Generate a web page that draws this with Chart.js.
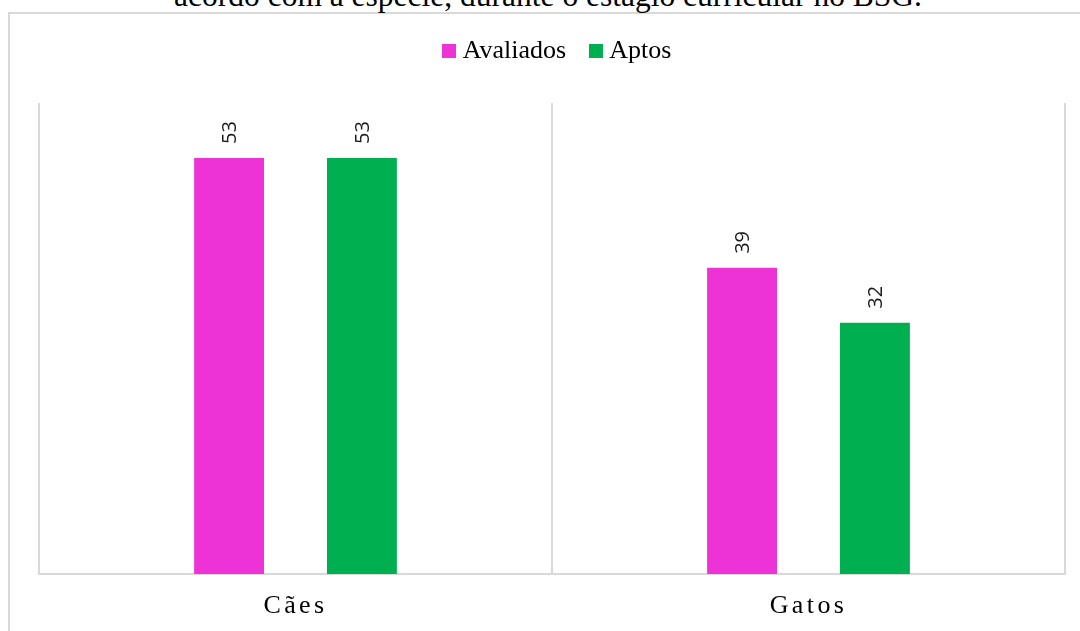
<!DOCTYPE html>
<html>
<head>
<meta charset="utf-8">
<script src="https://cdn.jsdelivr.net/npm/chart.js@4.4.1/dist/chart.umd.min.js"></script>
<style>
  html, body { margin: 0; padding: 0; background: #fff; width: 1080px; height: 631px; overflow: hidden; }
  #frame { position: absolute; left: 8px; top: 12px; width: 1200px; height: 800px;
           border-left: 2px solid #d9d9d9; border-top: 2px solid #d9d9d9; }
  #caption { position: absolute; left: 548px; top: -20px; transform: translateX(-50%);
             white-space: nowrap; font-family: 'Liberation Serif', 'Times New Roman', serif;
             font-size: 31.5px; line-height: 1; color: #000; }
  #wrap { position: absolute; left: 0; top: 0; width: 1080px; height: 631px; }
</style>
</head>
<body>
<div id="frame"></div>
<div id="caption">acordo com a espécie, durante o estágio curricular no BSG.</div>
<div id="wrap"><canvas id="c"></canvas></div>
<script>
// Animals per species
const categories = ['Cães', 'Gatos'];
const seriesNames = ['Avaliados', 'Aptos'];
const avaliados = [53, 39];
const aptos = [53, 32];
const seriesColors = ['#ED33D6', '#00B050'];
const axisMax = 60;

// Category axis that draws its labels with extra letter spacing
const BaseCategory = Chart.registry.getScale('category');
class SpacedCategoryScale extends BaseCategory {
  drawLabels(chartArea) {
    const ctx = this.ctx;
    ctx.save();
    ctx.letterSpacing = '3.4px';
    super.drawLabels(chartArea);
    ctx.restore();
  }
}
SpacedCategoryScale.id = 'spacedCategory';
SpacedCategoryScale.defaults = BaseCategory.defaults;
Chart.register(SpacedCategoryScale);

// Small square swatches for the legend
function swatch(color) {
  const cv = document.createElement('canvas');
  cv.width = 14; cv.height = 14;
  const g = cv.getContext('2d');
  g.fillStyle = color;
  g.fillRect(0, 0, 14, 14);
  return cv;
}
const swatches = seriesColors.map(swatch);

// Extra room under the legend, and a nudge to its horizontal centring
const legendSpacing = {
  id: 'legendSpacing',
  beforeInit(chart) {
    const fit = chart.legend.fit;
    chart.legend.fit = function () {
      fit.call(this);
      this.height += 29;
    };
  },
  afterLayout(chart) {
    chart.legend.left += 16;
  }
};

// Rotated value labels above each bar
const valueLabels = {
  id: 'valueLabels',
  afterDatasetsDraw(chart) {
    const ctx = chart.ctx;
    ctx.save();
    ctx.font = '20px "Open Sans"';
    ctx.fillStyle = '#1a1a1a';
    ctx.textAlign = 'left';
    ctx.textBaseline = 'middle';
    chart.data.datasets.forEach((ds, di) => {
      chart.getDatasetMeta(di).data.forEach((bar, i) => {
        ctx.save();
        ctx.translate(bar.x + 1, bar.y - 14);
        ctx.rotate(-Math.PI / 2);
        ctx.fillText(String(ds.data[i]), 0, 0);
        ctx.restore();
      });
    });
    ctx.restore();
  }
};

const seriesValues = [avaliados, aptos];

new Chart(document.getElementById('c'), {
  type: 'bar',
  data: {
    labels: categories,
    datasets: seriesNames.map((name, k) => ({
      label: name,
      data: seriesValues[k],
      backgroundColor: seriesColors[k],
      borderWidth: 0,
      barPercentage: 0.526,
      categoryPercentage: 0.518
    }))
  },
  options: {
    responsive: true,
    maintainAspectRatio: false,
    animation: false,
    layout: { padding: { top: 9, left: 39, right: 15, bottom: 9 } },
    plugins: {
      tooltip: { enabled: false },
      legend: {
        position: 'top',
        align: 'center',
        labels: {
          usePointStyle: true,
          pointStyleWidth: 1,
          boxHeight: 14,
          padding: 29,
          color: '#000',
          font: { family: "'Liberation Serif', 'Times New Roman', serif", size: 26 },
          generateLabels(chart) {
            const items = Chart.defaults.plugins.legend.labels.generateLabels(chart);
            items.forEach(it => { it.pointStyle = swatches[it.datasetIndex]; });
            return items;
          }
        }
      }
    },
    scales: {
      x: {
        type: 'spacedCategory',
        afterFit(scale) { scale.height = 48; },
        grid: { display: true, offset: true, color: '#d9d9d9', lineWidth: 2, drawTicks: false },
        border: { display: true, color: '#d9d9d9', width: 2 },
        ticks: {
          padding: 17,
          color: '#000',
          font: { family: "'Liberation Serif', 'Times New Roman', serif", size: 26 }
        }
      },
      y: { display: false, min: 0, max: axisMax }
    }
  },
  plugins: [legendSpacing, valueLabels]
});
</script>
</body>
</html>
